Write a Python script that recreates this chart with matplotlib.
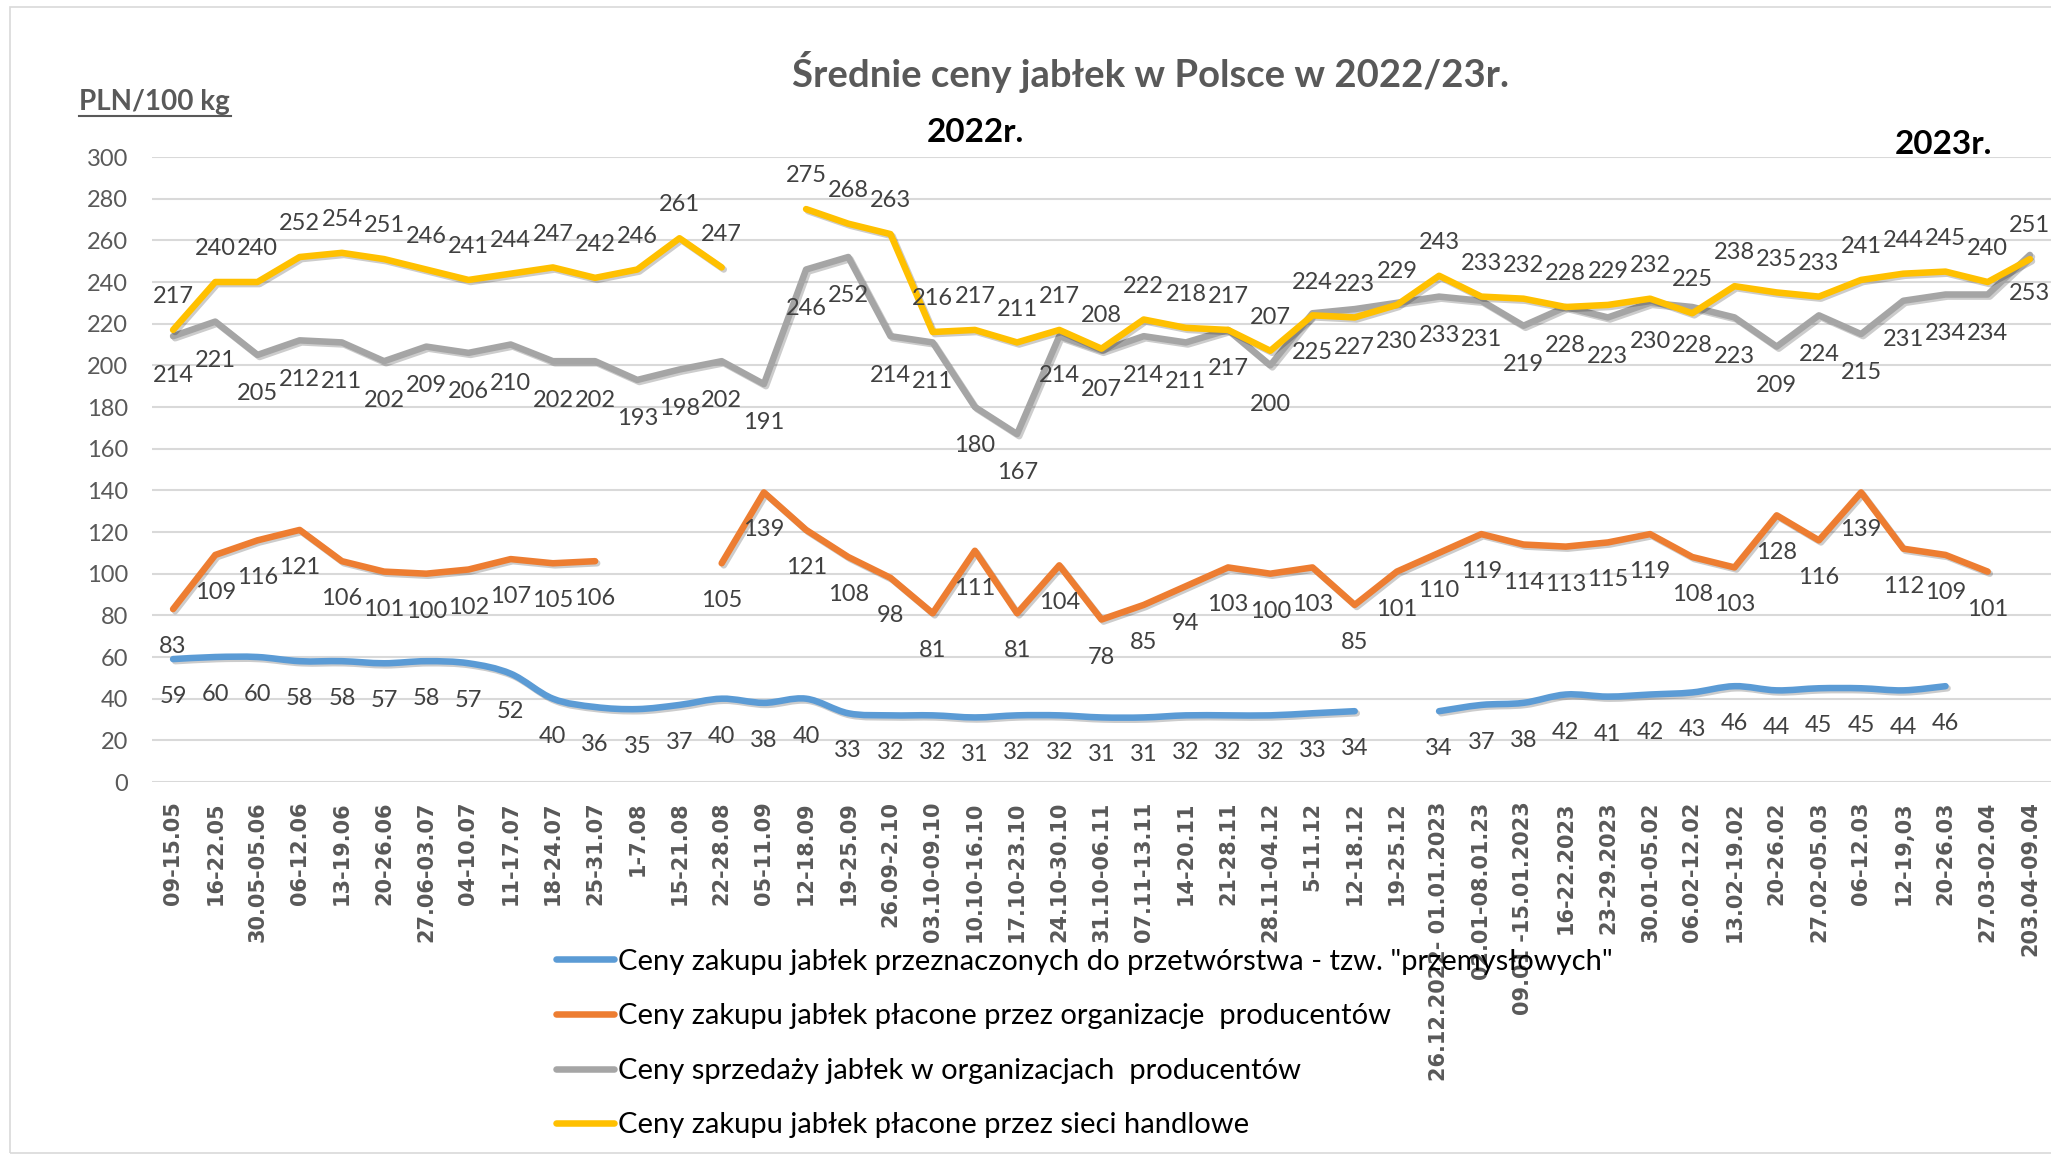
import numpy as np
import matplotlib.pyplot as plt
import matplotlib.patheffects as pe
from matplotlib.path import Path
from matplotlib.patches import PathPatch, Rectangle
from matplotlib.lines import Line2D

nan = np.nan

weeks = ['09-15.05', '16-22.05', '30.05-05.06', '06-12.06', '13-19.06', '20-26.06',
         '27.06-03.07', '04-10.07', '11-17.07', '18-24.07', '25-31.07', '1-7.08',
         '15-21.08', '22-28.08', '05-11.09', '12-18.09', '19-25.09', '26.09-2.10',
         '03.10-09.10', '10.10-16.10', '17.10-23.10', '24.10-30.10', '31.10-06.11',
         '07.11-13.11', '14-20.11', '21-28.11', '28.11-04.12', '5-11.12', '12-18.12',
         '19-25.12', '26.12.2022- 01.01.2023', '02.01-08.01.23', '09.01 -15.01.2023',
         '16-22.2023', '23-29.2023', '30.01-05.02', '06.02-12.02', '13.02-19.02',
         '20-26.02', '27.02-05.03', '06-12.03', '12-19,03', '20-26.03', '27.03-02.04',
         '203.04-09.04']

# ceny zakupu jablek przemyslowych
przemyslowe = [59, 60, 60, 58, 58, 57, 58, 57, 52, 40, 36, 35, 37, 40, 38, 40, 33, 32,
               32, 31, 32, 32, 31, 31, 32, 32, 32, 33, 34, nan, 34, 37, 38, 42, 41, 42,
               43, 46, 44, 45, 45, 44, 46, nan, nan]
# ceny zakupu placone przez organizacje producentow
zakup_org = [83, 109, 116, 121, 106, 101, 100, 102, 107, 105, 106, nan, nan, 105, 139,
             121, 108, 98, 81, 111, 81, 104, 78, 85, 94, 103, 100, 103, 85, 101, 110,
             119, 114, 113, 115, 119, 108, 103, 128, 116, 139, 112, 109, 101, nan]
# ceny sprzedazy w organizacjach producentow
sprzedaz_org = [214, 221, 205, 212, 211, 202, 209, 206, 210, 202, 202, 193, 198, 202,
                191, 246, 252, 214, 211, 180, 167, 214, 207, 214, 211, 217, 200, 225,
                227, 230, 233, 231, 219, 228, 223, 230, 228, 223, 209, 224, 215, 231,
                234, 234, 253]
# ceny zakupu placone przez sieci handlowe
sieci = [217, 240, 240, 252, 254, 251, 246, 241, 244, 247, 242, 246, 261, 247, nan,
         275, 268, 263, 216, 217, 211, 217, 208, 222, 218, 217, 207, 224, 223, 229,
         243, 233, 232, 228, 229, 232, 225, 238, 235, 233, 241, 244, 245, 240, 251]

legend_labels = ['Ceny zakupu jabłek przeznaczonych do przetwórstwa - tzw. "przemysłowych"',
                 'Ceny zakupu jabłek płacone przez organizacje  producentów',
                 'Ceny sprzedaży jabłek w organizacjach  producentów',
                 'Ceny zakupu jabłek płacone przez sieci handlowe']
colors = ['#5B9BD5', '#ED7D31', '#A5A5A5', '#FFC000']

plt.rcParams['font.family'] = ['Lato', 'DejaVu Sans']

fig = plt.figure(figsize=(20.51, 11.57), dpi=100)
ax = fig.add_axes([0.0741, 0.3241, 0.9259, 0.5402])
x = np.arange(len(weeks))
lw = 4.7
shadow = [pe.SimpleLineShadow(offset=(1.5, -1.5), alpha=0.2), pe.Normal()]


def smooth_path(xs, ys):
    # Excel-like smoothed line: Catmull-Rom segments as cubic beziers
    ys = np.asarray(ys, float)
    verts, codes = [], []
    idx = np.where(~np.isnan(ys))[0]
    runs = np.split(idx, np.where(np.diff(idx) > 1)[0] + 1)
    for run in runs:
        px, py = xs[run].astype(float), ys[run]
        n = len(px)
        verts.append((px[0], py[0]))
        codes.append(Path.MOVETO)
        for i in range(n - 1):
            i0 = max(i - 1, 0)
            i3 = min(i + 2, n - 1)
            c1 = (px[i] + (px[i + 1] - px[i0]) / 6, py[i] + (py[i + 1] - py[i0]) / 6)
            c2 = (px[i + 1] - (px[i3] - px[i]) / 6, py[i + 1] - (py[i3] - py[i]) / 6)
            verts += [c1, c2, (px[i + 1], py[i + 1])]
            codes += [Path.CURVE4] * 3
    return Path(verts, codes)


blue = PathPatch(smooth_path(x, przemyslowe), fill=False, edgecolor=colors[0], lw=lw,
                 capstyle='round', joinstyle='round', path_effects=shadow, zorder=3)
ax.add_patch(blue)
for vals, c in zip([zakup_org, sprzedaz_org, sieci], colors[1:]):
    ax.plot(x, vals, color=c, lw=lw, solid_joinstyle='round', solid_capstyle='round',
            path_effects=shadow, zorder=3)

# data labels: sieci above, the rest below
for vals, dy in [(przemyslowe, -27), (zakup_org, -27), (sprzedaz_org, -28), (sieci, 24)]:
    for xi, v in zip(x, vals):
        if np.isnan(v):
            continue
        ax.annotate(str(int(v)), (xi, v), xytext=(0, dy), textcoords='offset points',
                    ha='center', va='center', fontsize=17, color='#404040',
                    annotation_clip=False, zorder=4)

ax.set_xlim(-0.5, len(weeks) - 0.5)
ax.set_ylim(0, 300)
ax.set_yticks(range(0, 301, 20))
ax.set_xticks(x)
ax.set_xticklabels(weeks, rotation=90, fontfamily='DejaVu Sans', fontweight='bold',
                   fontsize=15, color='#595959')
ax.tick_params(axis='x', length=0, pad=14)
ax.tick_params(axis='y', length=0, pad=17, labelsize=17, labelcolor='#595959')
ax.grid(axis='y', color='#D9D9D9', lw=1.5)
ax.set_axisbelow(True)
for s in ax.spines.values():
    s.set_visible(False)

fig.text(1151 / 2051, 1 - 72 / 1157, 'Średnie ceny jabłek w Polsce w 2022/23r.',
         ha='center', va='center', fontsize=27.5, fontweight='bold', color='#595959')
fig.text(79 / 2051, 1 - 102 / 1157, 'PLN/100 kg', ha='left', va='center',
         fontsize=20, fontweight='bold', color='#595959')
fig.add_artist(Line2D([79 / 2051, 231 / 2051], [1 - 116 / 1157, 1 - 116 / 1157],
                      color='#595959', lw=1.5))
fig.text(975 / 2051, 1 - 133 / 1157, '2022r.', ha='center', va='center',
         fontsize=24, fontweight='bold', color='black')
fig.text(1943 / 2051, 1 - 144 / 1157, '2023r.', ha='center', va='center',
         fontsize=24, fontweight='bold', color='black')

handles = [Line2D([], [], color=c, lw=lw, solid_capstyle='round') for c in colors]
fig.legend(handles, legend_labels, loc='upper left',
           bbox_to_anchor=(541 / 2051, 1 - 934 / 1157), frameon=False, fontsize=21,
           handlelength=2.0, handletextpad=0.15, labelspacing=0.98, borderpad=0)

fig.add_artist(Rectangle((10 / 2051, 1 - 1153 / 1157), 2100 / 2051, 1146 / 1157,
                         fill=False, edgecolor='#D9D9D9', lw=1.2))

fig.savefig('out.png', dpi=100)
